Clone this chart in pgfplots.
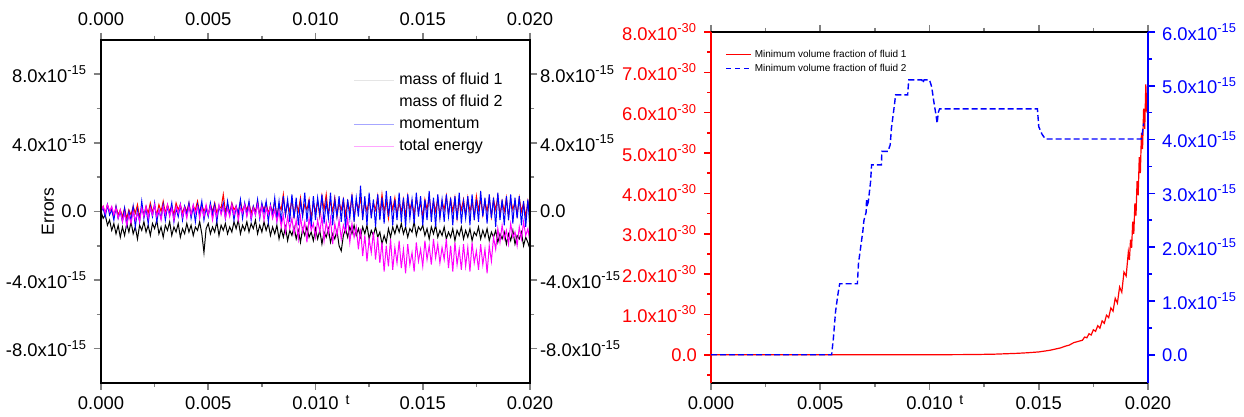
\documentclass[border=0pt]{standalone}
\usepackage{pgfplots}
\pgfplotsset{compat=1.18}
\usepackage{pgfplotstable}
\usepackage{fontspec}
\setmainfont{Liberation Sans}

\definecolor{oRed}{RGB}{255,0,0}
\definecolor{oBlue}{RGB}{0,0,255}
\definecolor{oMag}{RGB}{255,0,255}

% conservation errors (t in 1e-3, errors in 1e-15)
% columns: t, mass of fluid 1, mass of fluid 2, momentum, total energy
\pgfplotstableread{
t k r b m
0.0 0.0 0.0 0.0 0.0
0.1 -0.4 0.3 0.2 0.3
0.2 -0.2 -0.1 -0.3 -0.1
0.3 -0.8 0.4 0.4 0.4
0.4 -0.5 0.0 -0.2 0.0
0.5 -1.1 0.2 0.1 0.3
0.6 -0.7 -0.3 -0.5 -0.2
0.7 -1.3 0.3 0.3 0.2
0.8 -0.8 -0.2 -0.4 -0.4
0.9 -1.5 0.1 0.0 0.1
1.0 -0.9 -0.3 -0.6 -0.6
1.1 -1.4 0.2 0.2 -0.1
1.2 -0.7 -0.4 -0.8 -0.8
1.3 -1.2 0.1 0.0 -0.2
1.4 -0.6 -0.2 -0.5 -0.7
1.5 -1.3 0.3 0.3 0.0
1.6 -0.9 -0.1 -0.9 -0.5
1.7 -1.6 0.4 0.1 -0.1
1.8 -0.8 -0.3 -0.6 -0.6
1.9 -1.1 0.2 0.6 0.2
2.0 -0.6 -0.2 -0.4 -0.3
2.1 -1.2 0.3 0.2 0.3
2.2 -0.8 -0.1 -0.7 -0.4
2.3 -1.4 0.5 0.3 0.2
2.4 -0.7 0.0 -0.3 -0.2
2.5 -1.0 0.3 0.5 0.4
2.6 -0.5 -0.2 -0.6 -0.3
2.7 -1.3 0.4 0.1 0.1
2.8 -0.9 0.0 -0.4 -0.5
2.9 -1.5 0.6 0.4 0.3
3.0 -0.8 -0.1 -0.5 -0.2
3.1 -1.1 0.4 0.3 0.4
3.2 -0.6 0.0 -0.2 -0.3
3.3 -1.4 0.3 0.5 0.2
3.4 -0.9 -0.2 -0.6 -0.5
3.5 -1.2 0.5 0.2 0.3
3.6 -0.7 0.1 -0.3 -0.1
3.7 -1.5 0.4 0.4 0.4
3.8 -1.0 -0.1 -0.5 -0.3
3.9 -1.3 0.3 0.3 0.2
4.0 -0.7 0.0 -0.2 -0.4
4.1 -1.2 0.5 0.5 0.3
4.2 -0.8 -0.2 -0.4 -0.2
4.3 -1.4 0.3 0.3 0.4
4.4 -0.9 0.1 -0.6 -0.1
4.5 -1.1 0.6 0.4 0.3
4.6 -0.6 -0.1 -0.1 -0.4
4.7 -1.3 0.4 0.6 0.2
4.8 -2.4 0.0 -0.5 -0.3
4.9 -1.0 0.3 0.2 0.4
5.0 -0.7 -0.2 -0.3 -0.2
5.1 -1.3 0.4 0.5 0.3
5.2 -0.9 0.0 -0.2 -0.5
5.3 -1.2 0.5 0.4 0.2
5.4 -0.6 -0.1 -0.6 -0.3
5.5 -1.4 0.3 0.3 0.4
5.6 -0.8 0.2 -0.1 -0.2
5.7 -1.1 1.0 0.5 0.3
5.8 -0.7 0.0 -0.4 -0.4
5.9 -1.3 0.4 0.6 0.2
6.0 -0.9 -0.1 -0.2 -0.3
6.1 -1.2 0.5 0.4 0.4
6.2 -0.6 0.1 -0.5 -0.2
6.3 -1.0 0.3 0.3 0.3
6.4 -0.5 -0.2 -0.1 -0.5
6.5 -1.3 0.6 0.7 0.2
6.6 -0.8 0.0 -0.4 -0.1
6.7 -1.1 0.4 0.5 0.4
6.8 -0.6 0.1 -0.2 -0.3
6.9 -1.2 0.5 0.6 0.3
7.0 -0.7 -0.1 -0.5 -0.4
7.1 -1.0 0.3 0.3 0.2
7.2 -0.5 0.0 -0.2 -0.2
7.3 -1.3 0.6 0.7 0.4
7.4 -0.8 -0.2 -0.4 -0.3
7.5 -1.2 0.4 0.5 0.3
7.6 -0.6 0.1 -0.1 -0.5
7.7 -1.1 0.5 0.6 0.2
7.8 -0.7 -0.1 -0.6 -0.2
7.9 -1.4 0.3 0.4 0.3
8.0 -0.9 0.0 -0.3 -0.4
8.1 -1.3 0.6 0.8 0.1
8.2 -0.8 -0.3 -0.5 -0.6
8.3 -1.6 0.4 0.6 0.0
8.4 -1.0 0.1 -0.7 -0.9
8.5 -1.5 1.0 0.9 -0.2
8.6 -0.9 -0.2 -0.2 -1.2
8.7 -1.7 0.5 0.7 -0.3
8.8 -1.1 0.0 -0.6 -1.0
8.9 -1.4 0.7 1.0 -0.4
9.0 -0.9 -0.3 -0.4 -1.3
9.1 -1.6 0.5 0.8 -0.5
9.2 -1.1 0.0 -0.8 -1.6
9.3 -1.8 0.8 0.6 -0.3
9.4 -1.0 -0.2 -0.3 -1.2
9.5 -1.4 0.4 1.1 -0.6
9.6 -0.9 0.1 -0.6 -1.8
9.7 -1.5 0.7 0.7 -0.4
9.8 -1.2 -0.4 -0.9 -1.1
9.9 -1.7 0.5 0.9 -0.7
10.0 -1.0 0.0 -0.5 -1.5
10.1 -1.6 0.6 0.8 -0.5
10.2 -1.1 -0.3 -0.2 -1.2
10.3 -1.9 0.9 1.0 -0.3
10.4 -1.2 0.1 -0.7 -1.7
10.5 -1.5 1.0 0.6 -0.6
10.6 -1.0 -0.2 -0.4 -1.3
10.7 -1.8 0.6 1.1 -0.4
10.8 -1.3 0.0 -0.8 -1.9
10.9 -1.6 0.8 0.7 -0.7
11.0 -1.1 -0.3 -0.3 -1.4
11.1 -2.0 0.5 0.9 -0.5
11.2 -2.3 0.1 -0.6 -1.6
11.3 -1.4 0.7 0.8 -0.8
11.4 -1.0 -0.2 -1.0 -1.2
11.5 -1.5 0.6 0.7 -0.4
11.6 -0.9 0.0 -0.4 -1.8
11.7 -1.3 0.9 1.0 -0.7
11.8 -0.8 -0.4 -0.6 -1.5
11.9 -1.4 0.6 0.8 -0.9
12.0 -1.0 0.1 -0.3 -2.2
12.1 -1.5 0.8 1.5 -1.0
12.2 -0.9 -0.3 -0.5 -2.6
12.3 -1.3 0.6 0.9 -1.4
12.4 -0.8 0.0 -0.8 -2.9
12.5 -1.6 0.7 1.1 -1.6
12.6 -1.1 -0.2 -0.4 -2.4
12.7 -1.4 0.5 0.7 -1.2
12.8 -0.9 0.1 -0.9 -2.8
12.9 -1.5 0.9 1.0 -1.5
13.0 -1.2 -0.2 -0.5 -3.0
13.1 -1.9 1.0 0.8 -1.8
13.2 -1.4 0.0 -0.7 -3.5
13.3 -1.8 0.6 1.2 -2.0
13.4 -1.0 -0.4 -0.3 -3.2
13.5 -1.5 0.7 0.9 -1.6
13.6 -0.9 0.1 -0.8 -3.4
13.7 -1.3 0.8 0.7 -2.1
13.8 -0.8 -0.2 -0.5 -3.0
13.9 -1.2 0.5 1.1 -1.7
14.0 -0.7 0.0 -0.6 -3.3
14.1 -1.3 0.7 0.8 -2.2
14.2 -0.9 -0.3 -0.9 -3.6
14.3 -1.5 0.9 1.0 -1.9
14.4 -1.0 0.1 -0.4 -3.1
14.5 -1.2 0.6 0.7 -2.4
14.6 -0.6 -0.2 -0.7 -3.5
14.7 -1.4 0.8 1.1 -1.8
14.8 -0.9 0.0 -0.3 -2.9
14.9 -1.1 0.5 0.9 -2.2
15.0 -0.8 -0.3 -0.8 -3.2
15.1 -1.4 0.7 0.7 -1.7
15.2 -1.0 0.1 -0.5 -2.8
15.3 -1.6 0.9 1.2 -2.0
15.4 -0.9 -0.2 -0.6 -3.1
15.5 -1.3 0.6 0.8 -1.6
15.6 -0.8 0.0 -0.9 -2.7
15.7 -1.5 0.8 1.0 -1.9
15.8 -1.1 -0.3 -0.4 -3.0
15.9 -1.4 0.6 0.7 -2.1
16.0 -0.9 0.1 -0.6 -2.8
16.1 -1.6 0.9 1.0 -1.6
16.2 -1.2 -0.2 -0.3 -3.3
16.3 -1.5 0.7 0.8 -2.0
16.4 -1.0 0.0 -0.8 -3.5
16.5 -1.7 0.8 0.9 -1.8
16.6 -1.1 -0.4 -0.5 -3.1
16.7 -1.4 0.6 1.1 -2.2
16.8 -0.9 0.1 -0.7 -3.4
16.9 -1.6 0.7 0.6 -1.9
17.0 -1.1 -0.2 -0.4 -3.2
17.1 -1.5 0.8 0.9 -2.1
17.2 -1.0 0.0 -0.8 -3.5
17.3 -1.7 0.6 1.0 -1.8
17.4 -1.2 -0.3 -0.5 -3.0
17.5 -1.4 0.9 0.7 -2.3
17.6 -0.9 0.1 -0.6 -3.4
17.7 -1.6 0.7 1.2 -1.9
17.8 -1.1 -0.2 -0.3 -3.1
17.9 -1.5 0.6 0.8 -2.2
18.0 -1.0 0.0 -0.7 -3.6
18.1 -1.7 0.8 1.0 -2.0
18.2 -1.2 -0.3 -0.4 -2.9
18.3 -1.5 0.7 0.8 -1.5
18.4 -1.1 0.1 -0.9 -2.2
18.5 -1.8 0.9 1.1 -1.0
18.6 -1.3 -0.2 -0.5 -1.8
18.7 -1.6 0.6 0.7 -0.8
18.8 -1.2 0.0 -0.8 -1.6
18.9 -1.9 0.8 0.9 -1.1
19.0 -1.3 -0.3 -0.5 -1.9
19.1 -1.7 0.7 1.0 -0.7
19.2 -1.1 0.1 -0.7 -1.5
19.3 -1.9 0.6 0.8 -1.2
19.4 -1.4 -0.2 -0.4 -2.0
19.5 -1.6 0.8 0.9 -0.9
19.6 -1.2 0.0 -0.8 -1.6
19.7 -2.0 0.5 0.6 -0.6
19.8 -1.5 -0.3 -0.9 -1.4
19.9 -1.8 0.6 0.7 -1.0
20.0 -2.2 -0.2 -1.0 -1.8
}\errtable

% minimum volume fraction of fluid 1 (t in 1e-3, value in 1e-30)
\pgfplotstableread{
t v
0.0 0.0
10.0 0.0
12.0 0.005
13.0 0.015
14.0 0.035
14.5 0.05
15.0 0.07
15.5 0.11
16.0 0.17
16.2 0.21
16.4 0.24
16.6 0.30
16.8 0.33
17.0 0.36
17.1 0.44
17.2 0.42
17.3 0.52
17.4 0.49
17.5 0.62
17.6 0.58
17.7 0.72
17.8 0.66
17.9 0.84
18.0 0.78
18.1 0.98
18.2 0.92
18.3 1.16
18.4 1.08
18.5 1.40
18.6 1.28
18.7 1.68
18.8 1.55
18.9 2.05
19.0 1.95
19.1 2.55
19.15 2.35
19.2 2.85
19.25 2.65
19.3 3.3
19.35 3.0
19.4 3.75
19.45 3.45
19.5 4.3
19.55 3.95
19.6 4.9
19.65 4.5
19.7 5.5
19.75 5.1
19.8 6.1
19.85 5.6
19.9 6.7
19.95 6.0
20.0 6.4
}\fracone

% minimum volume fraction of fluid 2 (t in 1e-3, value in 1e-15)
\pgfplotstableread{
t v
0.0 0.0
5.52 0.0
5.6 0.3
5.7 0.8
5.8 1.1
5.89 1.32
6.7 1.32
6.75 1.7
6.85 2.0
6.95 2.3
7.0 2.5
7.1 2.65
7.12 2.9
7.15 2.75
7.2 2.85
7.3 3.2
7.35 3.53
7.8 3.53
7.82 3.78
8.1 3.78
8.2 3.9
8.26 4.22
8.35 4.5
8.45 4.83
9.0 4.83
9.05 5.11
9.65 5.11
9.7 5.05
9.75 5.11
10.0 5.11
10.1 4.98
10.2 4.7
10.3 4.45
10.35 4.3
10.4 4.5
10.46 4.57
14.94 4.57
15.0 4.24
15.15 4.1
15.3 4.01
19.7 4.01
19.75 4.15
19.8 4.3
}\fractwo

\pgfplotsset{
  panel/.style={
    scale only axis, clip=true,
    xmin=0, xmax=20,
    axis line style={line width=0.8pt},
    tick style={line width=0.8pt},
    tick align=outside,
    major tick length=3.5pt, minor tick length=2pt,
    ticklabel style={font=\fontsize{9.2}{11}\selectfont},
    xtick={0,5,10,15,20},
    xticklabels={0.000,0.005,0.010,0.015,0.020},
    minor xtick={2.5,7.5,12.5,17.5},
  },
  errpanel/.style={
    panel, at={(50.5pt,17pt)}, anchor=south west,
    width=214.5pt, height=171.5pt,
    ymin=-10, ymax=10,
    ytick={-8,-4,0,4,8},
    yticklabels={{-8.0x10\textsuperscript{-15}},{-4.0x10\textsuperscript{-15}},{0.0},{4.0x10\textsuperscript{-15}},{8.0x10\textsuperscript{-15}}},
    minor ytick={-6,-2,2,6},
    xtick pos=both, ytick pos=both,
  },
  fracpanel/.style={
    panel, at={(355.5pt,17pt)}, anchor=south west,
    width=218.5pt, height=175.5pt,
  },
}

\begin{document}
\begin{tikzpicture}
\useasboundingbox (0,0) rectangle (622pt,208.5pt);

% ---- conservation errors ----
\begin{axis}[errpanel,
  xticklabel pos=lower, yticklabel pos=left,
  ylabel={Errors},
  ylabel style={at={(rel axis cs:0,0.5)}, anchor=center, yshift=26.5pt,
    font=\fontsize{8.8}{10}\selectfont},
  xlabel={t},
  xlabel style={at={(rel axis cs:0.575,0)}, anchor=north, inner sep=0pt,
    yshift=-6pt, font=\fontsize{7}{8}\selectfont},
  legend cell align=left,
  legend style={at={(0.5874,0.905)}, anchor=north west, draw=none, fill=none,
    font=\fontsize{8}{9}\selectfont, inner sep=0pt, row sep=3.5pt, column sep=2.5pt,
    nodes={inner sep=0pt, text height=6pt, text depth=1.5pt}},
  legend image code/.code={\draw[#1] (0pt,0pt) -- (20pt,0pt);},
]
\addplot[black, line width=0.5pt, forget plot] table[x=t, y=k] {\errtable};
\addplot[oRed, line width=0.5pt, forget plot] table[x=t, y=r] {\errtable};
\addplot[oBlue, line width=0.5pt, forget plot] table[x=t, y=b] {\errtable};
\addplot[oMag, line width=0.5pt, forget plot] table[x=t, y=m] {\errtable};
\addlegendimage{black!10, line width=0.5pt}
\addlegendentry{mass of fluid 1}
\addlegendimage{white, line width=0.5pt}
\addlegendentry{mass of fluid 2}
\addlegendimage{oBlue!35, line width=0.5pt}
\addlegendentry{momentum}
\addlegendimage{oMag!35, line width=0.5pt}
\addlegendentry{total energy}
\end{axis}
\begin{axis}[errpanel, xticklabel pos=upper, yticklabel pos=right,
  yticklabel style={xshift=-2pt}]
\end{axis}

% ---- minimum volume fractions ----
\begin{axis}[fracpanel, ymin=-0.7, ymax=8,
  axis x line=box, axis y line=none, ytick=\empty,
  xlabel={t},
  xlabel style={at={(rel axis cs:0.573,0)}, anchor=north, inner sep=0pt,
    yshift=-6pt, font=\fontsize{7}{8}\selectfont},
]
\end{axis}
\begin{axis}[fracpanel, ymin=-0.7, ymax=8,
  axis x line=none, axis y line*=left,
  y axis line style={oRed}, tick style={oRed},
  yticklabel style={oRed},
  ytick={0,1,2,3,4,5,6,7,8},
  yticklabels={{0.0},{1.0x10\textsuperscript{-30}},{2.0x10\textsuperscript{-30}},{3.0x10\textsuperscript{-30}},{4.0x10\textsuperscript{-30}},{5.0x10\textsuperscript{-30}},{6.0x10\textsuperscript{-30}},{7.0x10\textsuperscript{-30}},{8.0x10\textsuperscript{-30}}},
  minor ytick={-0.5,0.5,1.5,2.5,3.5,4.5,5.5,6.5,7.5},
  legend cell align=left,
  legend style={at={(0.032,0.95)}, anchor=north west, draw=none, fill=none,
    font=\fontsize{5}{6}\selectfont, inner sep=0pt, row sep=2.3pt, column sep=1.5pt,
    nodes={inner sep=0pt, text height=3.7pt, text depth=1pt}},
  legend image code/.code={\draw[#1] (0pt,0pt) -- (12.5pt,0pt);},
]
\addplot[oRed, line width=0.6pt] table[x=t, y=v] {\fracone};
\addlegendentry{Minimum volume fraction of fluid 1}
\addlegendimage{oBlue, line width=0.7pt, dash pattern=on 2.5pt off 2pt}
\addlegendentry{Minimum volume fraction of fluid 2}
\end{axis}
\begin{axis}[fracpanel, ymin=-0.525, ymax=6,
  axis x line=none, axis y line*=right,
  y axis line style={oBlue}, tick style={oBlue},
  yticklabel style={oBlue},
  ytick={0,1,2,3,4,5,6},
  yticklabels={{0.0},{1.0x10\textsuperscript{-15}},{2.0x10\textsuperscript{-15}},{3.0x10\textsuperscript{-15}},{4.0x10\textsuperscript{-15}},{5.0x10\textsuperscript{-15}},{6.0x10\textsuperscript{-15}}},
  minor ytick={0.5,1.5,2.5,3.5,4.5,5.5},
]
\addplot[oBlue, line width=0.7pt, dash pattern=on 3pt off 1.5pt] table[x=t, y=v] {\fractwo};
\end{axis}
\end{tikzpicture}
\end{document}
